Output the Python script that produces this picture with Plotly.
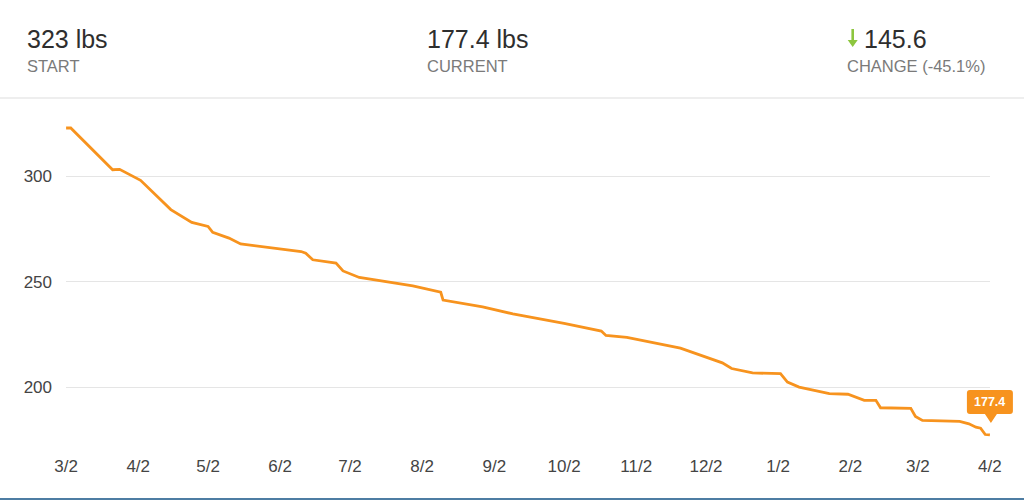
import plotly.graph_objects as go
import pandas as pd

# ---- data ----
dates = ["2015-03-02", "2015-03-04", "2015-03-22", "2015-03-25", "2015-04-03",
         "2015-04-16", "2015-04-25", "2015-05-02", "2015-05-04", "2015-05-11",
         "2015-05-16", "2015-06-11", "2015-06-13", "2015-06-16", "2015-06-26",
         "2015-06-29", "2015-07-06", "2015-07-29", "2015-08-10", "2015-08-11",
         "2015-08-28", "2015-09-10", "2015-10-02", "2015-10-18", "2015-10-20",
         "2015-10-29", "2015-11-21", "2015-12-09", "2015-12-13", "2015-12-22",
         "2016-01-03", "2016-01-06", "2016-01-11", "2016-01-24", "2016-02-01",
         "2016-02-08", "2016-02-13", "2016-02-15", "2016-02-28", "2016-03-01",
         "2016-03-04", "2016-03-20", "2016-03-24", "2016-03-27", "2016-03-29",
         "2016-03-31", "2016-04-02"]
weights = [323.0, 323.0, 303.2, 303.4, 298.2,
           284.3, 278.2, 276.3, 273.5, 270.8,
           268.0, 264.4, 263.6, 260.5, 258.9,
           255.2, 252.1, 248.1, 245.1, 241.4,
           238.2, 234.8, 230.3, 226.7, 224.6,
           223.7, 218.6, 211.6, 208.9, 206.8,
           206.5, 202.5, 200.1, 197.0, 196.7,
           193.8, 193.8, 190.3, 190.0, 186.2,
           184.3, 183.8, 182.7, 181.1, 180.6,
           177.6, 177.4]

x_tickvals = ["2015-03-02", "2015-04-02", "2015-05-02", "2015-06-02", "2015-07-02",
              "2015-08-02", "2015-09-02", "2015-10-02", "2015-11-02", "2015-12-02",
              "2016-01-02", "2016-02-02", "2016-03-02", "2016-04-02"]
x_ticktext = ["3/2", "4/2", "5/2", "6/2", "7/2", "8/2", "9/2", "10/2", "11/2",
              "12/2", "1/2", "2/2", "3/2", "4/2"]
y_tickvals = [200, 250, 300]

start_w = weights[0]
current_w = weights[-1]
change = start_w - current_w
pct = -change / start_w * 100

# ---- layout geometry ----
W, H = 1024, 500
L, R, T, B = 66, 34, 110, 60
PW, PH = W - L - R, H - T - B
X_RANGE = ["2015-03-01 23:00", "2016-04-02 01:00"]
Y_RANGE = [175.0, 331.55]


def px_x(px):
    return (px - L) / PW


def px_y(py):
    return (H - B - py) / PH


# paper position of the last data point (for the tooltip bubble)
x0r, x1r = pd.Timestamp(X_RANGE[0]), pd.Timestamp(X_RANGE[1])
last_px = (pd.Timestamp(dates[-1]) - x0r) / (x1r - x0r)
last_py = (current_w - Y_RANGE[0]) / (Y_RANGE[1] - Y_RANGE[0])

FONT = "Liberation Sans, Arial, Helvetica, sans-serif"
ORANGE = "#F7931E"
GREEN = "#8DC63F"

fig = go.Figure()
fig.add_trace(go.Scatter(
    x=dates, y=weights, mode="lines",
    line=dict(color=ORANGE, width=2.8),
    hoverinfo="skip", showlegend=False,
))

annotations = []


def txt(px, py, text, size, color, anchor="left"):
    annotations.append(dict(
        x=px_x(px), y=px_y(py), xref="paper", yref="paper",
        text=text, showarrow=False, xanchor=anchor, yanchor="middle",
        font=dict(family=FONT, size=size, color=color),
    ))


txt(25, 39, f"{start_w:g} lbs", 25, "#2E2E2E")
txt(25, 66, "START", 16.5, "#7A7A7A")
txt(425, 39, f"{current_w:.1f} lbs", 25, "#2E2E2E")
txt(425, 66, "CURRENT", 16.5, "#7A7A7A")
txt(862, 39, f"{change:.1f}", 25, "#2E2E2E")
txt(845, 66, f"CHANGE ({pct:.1f}%)", 16.5, "#7A7A7A")

# tooltip text on last point
annotations.append(dict(
    x=last_px, y=last_py, xref="paper", yref="paper",
    text=f"<b>{current_w:.1f}</b>", showarrow=False,
    xanchor="center", yanchor="middle", yshift=33, xshift=0,
    font=dict(family=FONT, size=12.5, color="white"),
))

shapes = [
    # header separator
    dict(type="line", xref="paper", yref="paper",
         x0=px_x(0), x1=px_x(W), y0=px_y(98), y1=px_y(98),
         line=dict(color="#DDDDDD", width=1.2)),
    # bottom border
    dict(type="line", xref="paper", yref="paper",
         x0=px_x(0), x1=px_x(W), y0=px_y(499), y1=px_y(499),
         line=dict(color="#4E7DA3", width=2)),
    # green down arrow in the header
    dict(type="path", xref="paper", yref="paper",
         xsizemode="pixel", ysizemode="pixel",
         xanchor=px_x(852.7), yanchor=px_y(29),
         path="M -1.3,0 L 1.3,0 L 1.3,-11 L 5,-11 L 0,-18 L -5,-11 L -1.3,-11 Z",
         fillcolor=GREEN, line=dict(width=0)),
    # tooltip bubble (pixel offsets relative to last point)
    dict(type="path", xref="paper", yref="paper",
         xsizemode="pixel", ysizemode="pixel",
         xanchor=last_px, yanchor=last_py,
         path=("M -20,45 L 20,45 Q 23,45 23,42 L 23,24 Q 23,21 20,21 "
               "L 7,21 L 1,12 L -5,21 L -20,21 Q -23,21 -23,24 "
               "L -23,42 Q -23,45 -20,45 Z"),
         fillcolor=ORANGE, line=dict(width=0), layer="above"),
]

fig.update_layout(
    width=W, height=H,
    margin=dict(l=L, r=R, t=T, b=B, pad=0),
    paper_bgcolor="white", plot_bgcolor="white",
    font=dict(family=FONT, color="#444444"),
    hovermode=False,
    annotations=annotations,
    shapes=shapes,
    xaxis=dict(
        type="date",
        range=X_RANGE,
        tickmode="array", tickvals=x_tickvals, ticktext=x_ticktext,
        showgrid=False, zeroline=False, showline=False, ticks="",
        tickfont=dict(size=17, color="#444444"),
        ticklabelstandoff=14,
        fixedrange=True,
    ),
    yaxis=dict(
        range=Y_RANGE,
        tickmode="array", tickvals=y_tickvals,
        showgrid=True, gridcolor="#E5E5E5", gridwidth=1,
        zeroline=False, showline=False, ticks="",
        tickfont=dict(size=17, color="#444444"),
        ticklabelstandoff=13,
        fixedrange=True,
    ),
)

fig.write_html(
    "out.html",
    config={"displayModeBar": False},
    post_script="document.body.style.margin='0';document.body.style.overflow='hidden';",
)
